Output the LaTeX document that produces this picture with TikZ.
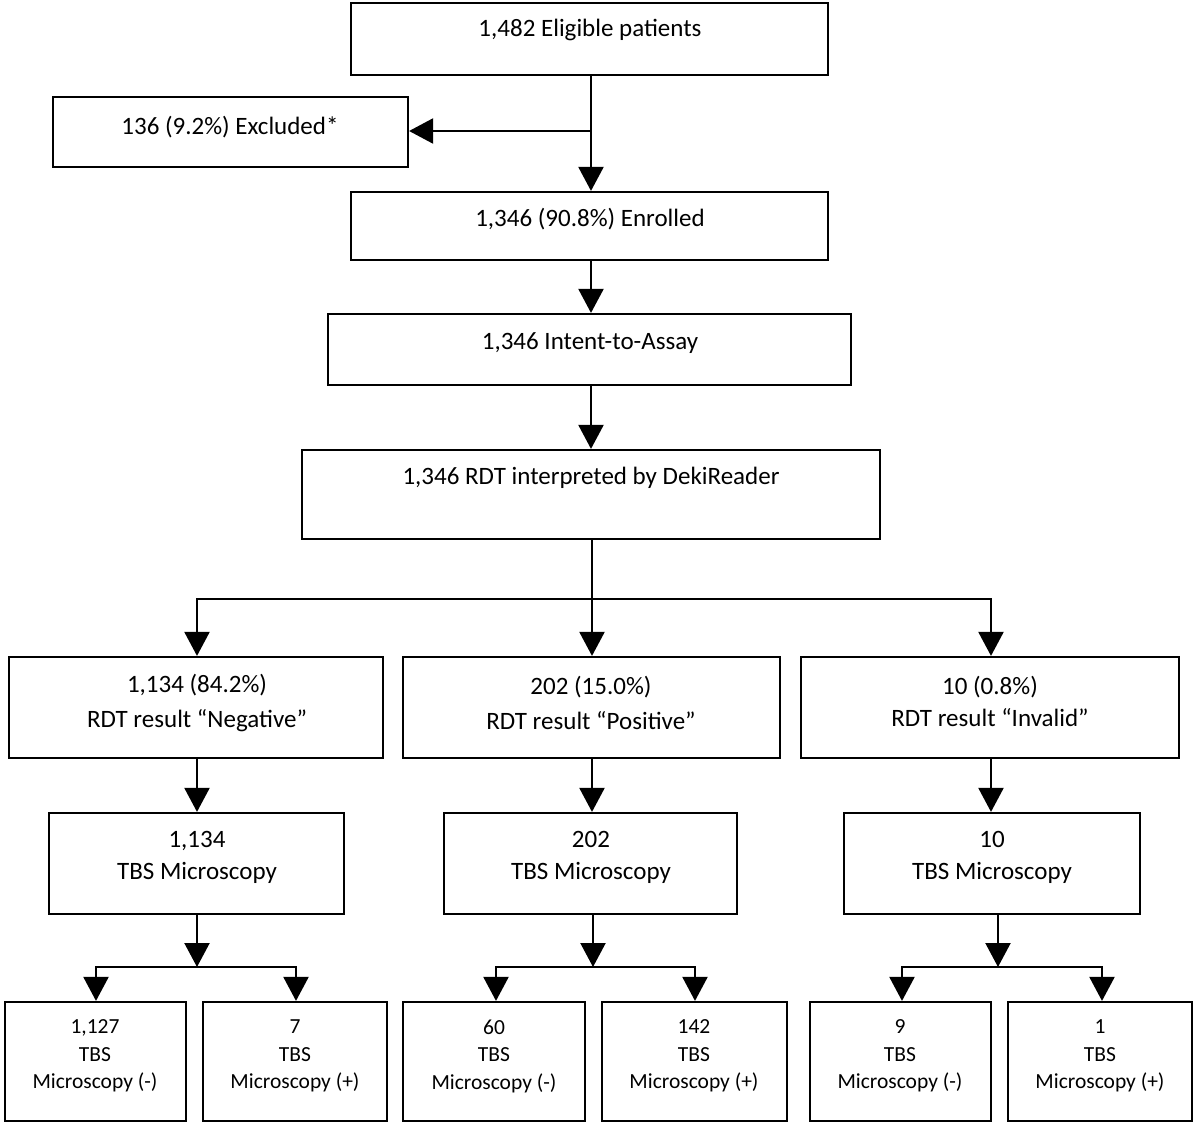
\documentclass[tikz,border=0pt]{standalone}
\usepackage{fontspec}
\setmainfont{Carlito}
\usetikzlibrary{arrows.meta}
\begin{document}
\begin{tikzpicture}[x=1pt,y=-1pt,
  box/.style={draw=black,line width=2.2pt,inner sep=0pt,fill=white},
  lbl/.style={inner sep=0pt,align=center,font=\fontsize{25}{32}\selectfont},
  lbls/.style={inner sep=0pt,align=center,font=\fontsize{21.5}{27.5}\selectfont},
  line/.style={draw=black,line width=2.2pt},
  arr/.style={line,-{Triangle[width=25pt,length=24pt]}}]
\useasboundingbox (0,0) rectangle (1200,1126);
% boxes
\node[box,minimum width=477,minimum height=72] (elig) at (589.5,39) {};
\node[box,minimum width=355,minimum height=70] (excl) at (230.5,132) {};
\node[box,minimum width=477,minimum height=68] (enr) at (589.5,226) {};
\node[box,minimum width=523,minimum height=71] (intent) at (589.5,349.5) {};
\node[box,minimum width=578,minimum height=89] (rdt) at (591,494.5) {};
\node[box,minimum width=374,minimum height=101] (neg) at (196,707.5) {};
\node[box,minimum width=377,minimum height=101] (pos) at (591.5,707.5) {};
\node[box,minimum width=378,minimum height=101] (inv) at (990,707.5) {};
\node[box,minimum width=295,minimum height=101] (tbsa) at (196.5,863.5) {};
\node[box,minimum width=293,minimum height=101] (tbsb) at (590.5,863.5) {};
\node[box,minimum width=296,minimum height=101] (tbsc) at (992,863.5) {};
\node[box,minimum width=181,minimum height=119] (ba) at (95.5,1061.5) {};
\node[box,minimum width=184,minimum height=119] (bb) at (295,1061.5) {};
\node[box,minimum width=182,minimum height=119] (bc) at (494,1061.5) {};
\node[box,minimum width=185,minimum height=119] (bd) at (694.5,1061.5) {};
\node[box,minimum width=181,minimum height=119] (be) at (900.5,1061.5) {};
\node[box,minimum width=184,minimum height=119] (bf) at (1100,1061.5) {};
% texts
\node[lbl] (teli) at (590,30) {1,482 Eligible patients};
\node[lbl] (texc) at (230,127) {136 (9.2\%) Excluded*};
\node[lbl] (tenr) at (590,219) {1,346 (90.8\%) Enrolled};
\node[lbl] (tint) at (590,343) {1,346 Intent-to-Assay};
\node[lbl] (trdt) at (591,478) {1,346 RDT interpreted by DekiReader};
\node[lbl] (tneg) at (197,703) {1,134 (84.2\%)\\[3pt]RDT result “Negative”};
\node[lbl] (tpos) at (591,703) {202 (15.0\%)\\[3pt]RDT result “Positive”};
\node[lbl] (tinv) at (990,701) {10 (0.8\%)\\RDT result “Invalid”};
\node[lbl] (tta) at (197,857) {1,134\\TBS Microscopy};
\node[lbl] (ttb) at (591,857) {202\\TBS Microscopy};
\node[lbl] (ttc) at (992,857) {10\\TBS Microscopy};
\node[lbls] (tba) at (95,1056) {1,127\\TBS\\Microscopy (-)};
\node[lbls] (tbb) at (295,1056) {7\\TBS\\Microscopy (+)};
\node[lbls] (tbc) at (494,1056) {60\\TBS\\Microscopy (-)};
\node[lbls] (tbd) at (694,1056) {142\\TBS\\Microscopy (+)};
\node[lbls] (tbe) at (900,1056) {9\\TBS\\Microscopy (-)};
\node[lbls] (tbf) at (1100,1056) {1\\TBS\\Microscopy (+)};
% coordinates
\coordinate (ex) at (591,131);
\coordinate (sp) at (592,599);
\coordinate (ja) at (197,967);
\coordinate (jb) at (593,967);
\coordinate (jc) at (998,967);
% connectors
\draw[arr] (elig.south -| ex) -- (enr.north -| ex);
\draw[arr] (ex) -- (ex -| excl.east);
\draw[arr] (enr.south -| ex) -- (intent.north -| ex);
\draw[arr] (intent.south -| ex) -- (rdt.north -| ex);
\draw[line] (rdt.south -| sp) -- (sp);
\draw[arr] (sp) -| (neg.north -| ja);
\draw[arr] (sp) -- (pos.north -| sp);
\draw[arr] (sp) -| (inv.north -| 991,0);
\draw[arr] (neg.south -| ja) -- (tbsa.north -| ja);
\draw[arr] (pos.south -| sp) -- (tbsb.north -| sp);
\draw[arr] (inv.south -| 991,0) -- (tbsc.north -| 991,0);
\draw[arr] (tbsa.south -| ja) -- (ja);
\draw[arr] (tbsb.south -| jb) -- (jb);
\draw[arr] (tbsc.south -| jc) -- (jc);
\draw[arr] (ja) -| (ba.north -| 96,0);
\draw[arr] (ja) -| (bb.north -| 296,0);
\draw[arr] (jb) -| (bc.north -| 496,0);
\draw[arr] (jb) -| (bd.north -| 695,0);
\draw[arr] (jc) -| (be.north -| 902,0);
\draw[arr] (jc) -| (bf.north -| 1102,0);
\end{tikzpicture}
\end{document}
